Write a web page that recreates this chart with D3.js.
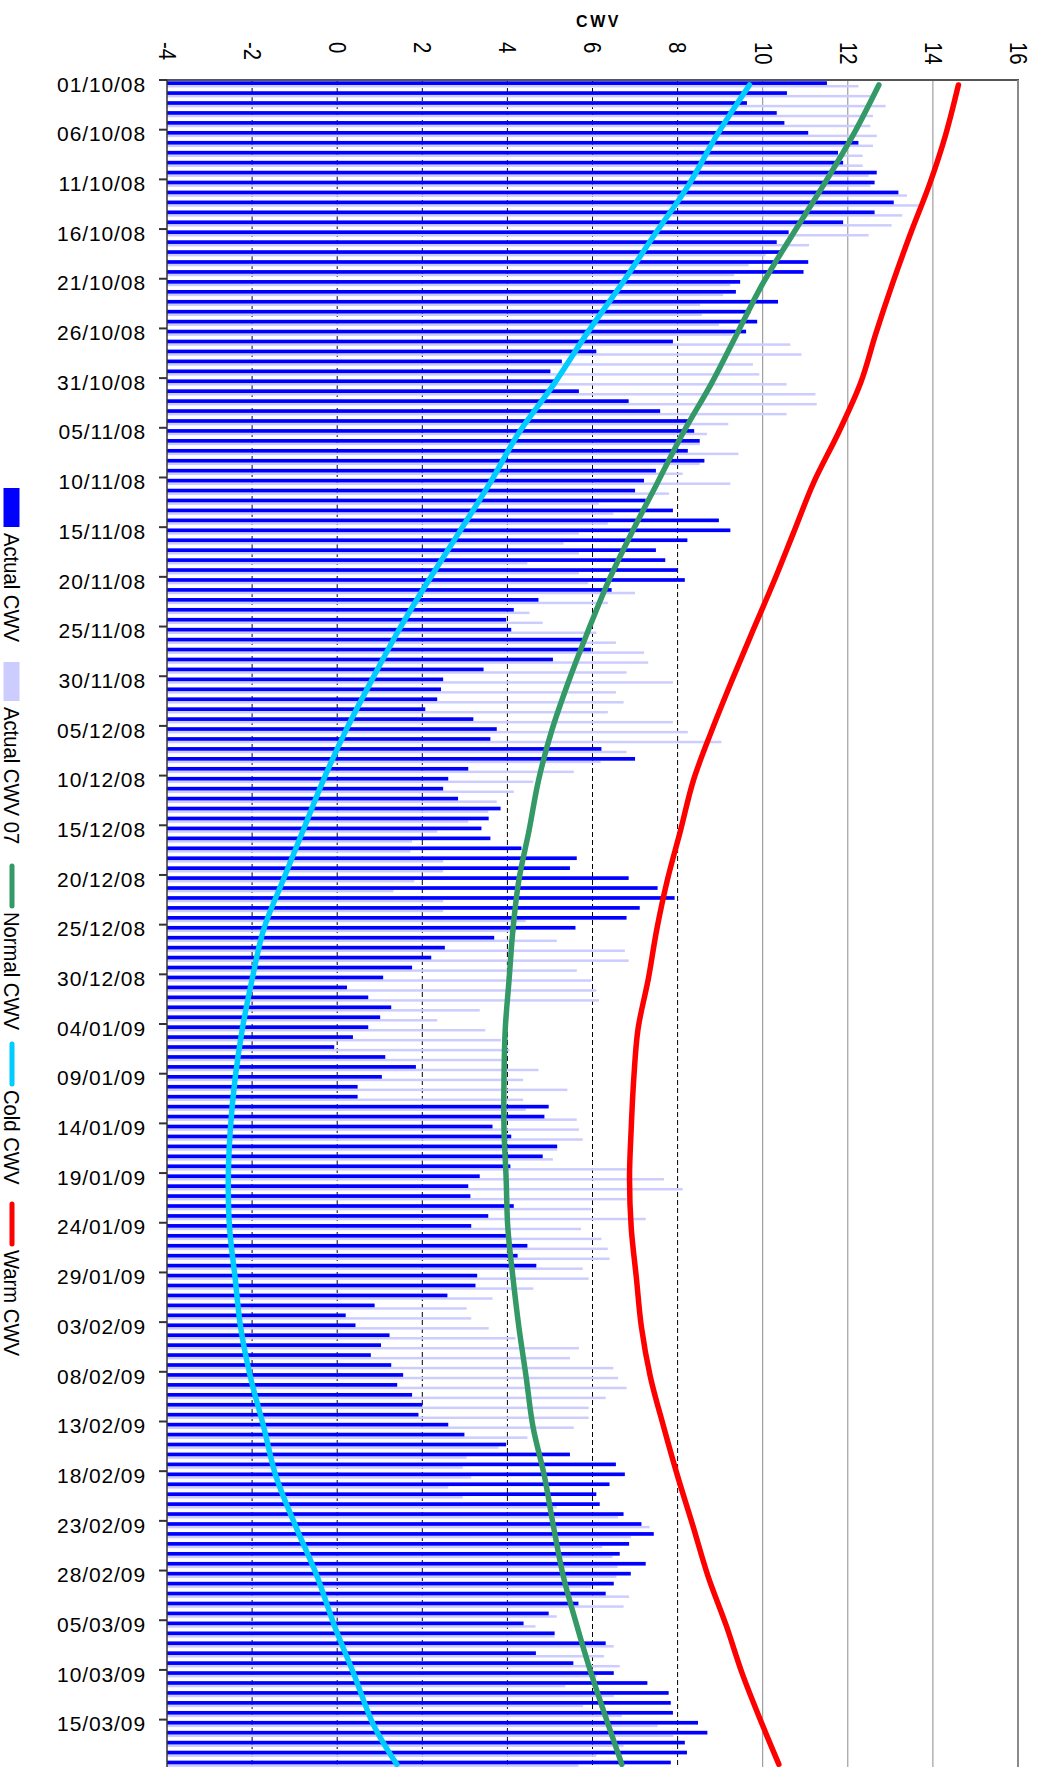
<!DOCTYPE html>
<html>
<head>
<meta charset="utf-8">
<script src="https://cdn.jsdelivr.net/npm/d3@7"></script>
<style>
    body { margin: 0; background: #fff; }
    svg text { font-family: "Liberation Sans", Arial, sans-serif; fill: #000; }
</style>
</head>
<body>
<svg id="chart"></svg>
<script>
// Date labels, one every 5 days (first day of each 5-day block)
var tickLabels = ["01/10/08", "06/10/08", "11/10/08", "16/10/08", "21/10/08", "26/10/08", "31/10/08",
    "05/11/08", "10/11/08", "15/11/08", "20/11/08", "25/11/08", "30/11/08", "05/12/08", "10/12/08",
    "15/12/08", "20/12/08", "25/12/08", "30/12/08", "04/01/09", "09/01/09", "14/01/09", "19/01/09",
    "24/01/09", "29/01/09", "03/02/09", "08/02/09", "13/02/09", "18/02/09", "23/02/09", "28/02/09",
    "05/03/09", "10/03/09", "15/03/09"];

var valueTicks = [-4, -2, 0, 2, 4, 6, 8, 10, 12, 14, 16];

// Daily values, 01/10/08 .. 19/03/09
var actualCwv = [
    11.51, 10.57, 9.63, 10.33, 10.51, 11.07, 12.25, 11.77, 11.89, 12.68,
    12.63, 13.19, 13.08, 12.63, 11.89, 10.61, 10.33, 10.47, 11.07, 10.96,
    9.47, 9.37, 10.36, 9.71, 9.87, 9.61, 7.89, 6.09, 5.28, 5.01,
    5.11, 5.68, 6.85, 7.59, 8.27, 8.39, 8.52, 8.24, 8.63, 7.49,
    7.21, 7.0, 7.25, 7.89, 8.97, 9.24, 8.23, 7.49, 7.71, 7.99,
    8.17, 6.45, 4.73, 4.15, 3.97, 4.09, 5.77, 5.97, 5.07, 3.44,
    2.49, 2.44, 2.35, 2.07, 3.2, 3.75, 3.6, 6.21, 7.0, 3.08,
    2.61, 2.49, 2.84, 3.84, 3.56, 3.39, 3.6, 4.33, 5.63, 5.47,
    6.85, 7.53, 7.93, 7.11, 6.8, 5.6, 3.69, 2.53, 2.21, 1.76,
    1.08, 0.23, 0.73, 1.27, 1.01, 0.73, 0.37, -0.07, 1.13, 1.85,
    1.05, 0.48, 0.48, 4.97, 4.87, 3.65, 4.09, 5.17, 4.83, 4.07,
    3.35, 3.08, 3.13, 4.15, 3.55, 3.15, 4.0, 4.47, 4.24, 4.68,
    3.29, 3.25, 2.59, 0.88, 0.2, 0.43, 1.23, 1.03, 0.79, 1.27,
    1.55, 1.41, 1.76, 2.0, 1.91, 2.61, 2.99, 3.97, 5.47, 6.55,
    6.76, 6.4, 6.09, 6.17, 6.73, 7.15, 7.44, 6.86, 6.64, 7.25,
    6.9, 6.5, 6.31, 5.67, 4.97, 4.38, 5.11, 6.31, 4.67, 5.55,
    6.5, 7.29, 7.79, 7.84, 7.89, 8.48, 8.7, 8.17, 8.22, 7.84
];

var actualCwv07 = [
    12.25, 12.53, 12.89, 12.59, 12.53, 12.68, 12.59, 12.35, 12.35, 12.49,
    12.53, 13.39, 13.68, 13.28, 13.03, 12.49, 11.09, 10.07, 9.67, 9.33,
    9.24, 9.07, 8.53, 8.57, 8.97, 9.29, 10.65, 10.91, 9.77, 9.92,
    10.56, 11.24, 11.27, 10.56, 9.19, 8.69, 8.52, 9.43, 8.52, 8.12,
    9.24, 7.8, 6.15, 6.49, 6.36, 5.68, 5.32, 5.68, 4.47, 5.68,
    5.9, 7.0, 6.36, 4.52, 4.83, 6.09, 6.55, 7.21, 7.31, 6.8,
    7.89, 6.55, 6.73, 6.36, 7.89, 8.24, 9.03, 6.8, 6.19, 5.56,
    4.61, 4.15, 3.75, 3.55, 3.08, 2.35, 1.76, 1.72, 2.49, 2.49,
    1.81, 1.32, 2.49, 2.49, 4.43, 4.2, 5.16, 6.76, 6.85, 5.63,
    5.97, 6.09, 6.15, 3.35, 2.35, 3.48, 3.85, 4.05, 3.87, 4.73,
    4.37, 5.41, 4.37, 4.43, 5.63, 5.68, 5.77, 5.17, 5.07, 6.8,
    7.68, 8.12, 6.8, 5.97, 7.25, 5.73, 6.21, 6.36, 6.4, 5.77,
    5.91, 4.61, 3.65, 3.04, 3.15, 3.56, 4.19, 5.68, 5.47, 6.49,
    6.6, 6.8, 6.31, 5.91, 5.91, 5.56, 4.47, 3.79, 3.04, 2.95,
    3.15, 2.61, 2.95, 5.16, 6.6, 7.34, 6.9, 6.23, 6.47, 6.59,
    6.56, 5.97, 6.86, 6.73, 5.16, 4.66, 5.11, 6.5, 6.27, 6.64,
    6.1, 5.36, 6.5, 5.78, 6.69, 7.53, 7.9, 6.73, 6.09, 5.67
];

// Reference curves, read every 5 days (day index from 01/10/08)
var curveDays = [0, 5, 10, 15, 20, 25, 30, 35, 40, 45, 50, 55, 60, 65, 70, 75, 80, 85,
    90, 95, 100, 105, 110, 115, 120, 125, 130, 135, 140, 145, 150, 155, 160, 165, 169];
var normalCwv = [12.73, 12.13, 11.44, 10.71, 10.0, 9.4, 8.8, 8.13, 7.53, 6.93, 6.37, 5.89,
    5.44, 5.04, 4.73, 4.51, 4.27, 4.13, 4.04, 3.95, 3.92, 3.92, 3.97, 4.01, 4.13, 4.27,
    4.44, 4.6, 4.87, 5.08, 5.31, 5.63, 5.98, 6.37, 6.69];
var coldCwv = [9.69, 8.93, 8.27, 7.47, 6.69, 5.87, 5.11, 4.27, 3.6, 2.87, 2.13, 1.43,
    0.8, 0.2, -0.33, -0.8, -1.27, -1.73, -2.0, -2.23, -2.4, -2.51, -2.56, -2.53, -2.4, -2.27,
    -2.04, -1.73, -1.44, -0.98, -0.48, -0.07, 0.4, 0.85, 1.4];
var warmCwv = [14.6, 14.3, 13.92, 13.47, 13.05, 12.66, 12.3, 11.78, 11.2, 10.73, 10.26, 9.76,
    9.27, 8.8, 8.37, 8.07, 7.76, 7.51, 7.31, 7.07, 6.97, 6.91, 6.87, 6.91, 7.03, 7.15,
    7.36, 7.67, 8.0, 8.36, 8.71, 9.14, 9.53, 9.99, 10.38];

var seriesNames = ["Actual CWV", "Actual CWV 07", "Normal CWV", "Cold CWV", "Warm CWV"];
var seriesColors = ["#0000ff", "#ccccff", "#339966", "#00ccff", "#ff0000"];

var chart = {
    width: 1037,
    height: 1767,
    marginLeft: 167,
    plotRight: 1018,
    marginTop: 80,
    dayHeight: 9.937
};

var svg = d3.select("#chart")
    .attr("width", chart.width)
    .attr("height", chart.height);

var xScale = d3.scaleLinear()
    .domain([valueTicks[0], valueTicks[valueTicks.length - 1]])
    .range([chart.marginLeft, chart.plotRight]);

var yScale = d3.scaleBand()
    .domain(d3.range(actualCwv.length))
    .range([chart.marginTop, chart.marginTop + chart.dayHeight * actualCwv.length])
    .paddingInner(0)
    .paddingOuter(0);

var plotBottom = yScale.range()[1];

function renderGrid() {
    var grid = svg.append("g").attr("class", "grid");
    grid.selectAll("line")
        .data(valueTicks.slice(1, -1))
        .enter().append("line")
        .attr("x1", function (d) { return xScale(d); })
        .attr("x2", function (d) { return xScale(d); })
        .attr("y1", chart.marginTop)
        .attr("y2", plotBottom)
        .attr("stroke", function (d) { return d <= 8 ? "#000" : "#8a8a8a"; })
        .attr("stroke-width", 1)
        .attr("stroke-dasharray", function (d) { return d <= 8 ? "5,3" : null; });
}

function renderBars() {
    var bw = yScale.bandwidth();
    var base = xScale.domain()[0];
    var bars = svg.append("g").attr("class", "bars");

    bars.append("g").selectAll("rect")
        .data(actualCwv07)
        .enter().append("rect")
        .attr("x", xScale(base))
        .attr("y", function (d, i) { return yScale(i) + bw * 0.5; })
        .attr("width", function (d) { return xScale(d) - xScale(base); })
        .attr("height", bw * 0.25)
        .attr("fill", seriesColors[1]);

    bars.append("g").selectAll("rect")
        .data(actualCwv)
        .enter().append("rect")
        .attr("x", xScale(base))
        .attr("y", function (d, i) { return yScale(i) + bw * 0.13; })
        .attr("width", function (d) { return xScale(d) - xScale(base); })
        .attr("height", bw * 0.37)
        .attr("fill", seriesColors[0]);
}

function renderLines() {
    var half = yScale.bandwidth() / 2;
    var line = d3.line()
        .x(function (d) { return xScale(d.v); })
        .y(function (d) { return yScale(d.day) + half; })
        .curve(d3.curveCatmullRom);

    var curves = [normalCwv, coldCwv, warmCwv];
    var lines = svg.append("g").attr("class", "lines");
    curves.forEach(function (values, k) {
        var pts = curveDays.map(function (day, j) { return {day: day, v: values[j]}; });
        lines.append("path")
            .datum(pts)
            .attr("d", line)
            .attr("fill", "none")
            .attr("stroke", seriesColors[k + 2])
            .attr("stroke-width", 5.5)
            .attr("stroke-linecap", "round")
            .attr("stroke-linejoin", "round");
    });
}

function renderAxis() {
    // value axis along the top, labels turned a quarter clockwise
    var topAxis = d3.axisTop(xScale)
        .tickValues(valueTicks)
        .tickSize(0)
        .tickFormat(function (d) { return String(d); });
    var gTop = svg.append("g")
        .attr("transform", "translate(0," + chart.marginTop + ")")
        .call(topAxis);
    gTop.select(".domain").remove();
    gTop.selectAll("text")
        .attr("x", 0).attr("y", 0).attr("dy", "0.36em")
        .attr("transform", "translate(0,-38) rotate(90) scale(0.85,1)")
        .style("text-anchor", "start")
        .style("font-size", "24px");

    svg.append("line")
        .attr("x1", chart.marginLeft - 7).attr("x2", chart.plotRight + 1)
        .attr("y1", chart.marginTop).attr("y2", chart.marginTop)
        .attr("stroke", "#555").attr("stroke-width", 2);
    svg.append("line")
        .attr("x1", chart.plotRight).attr("x2", chart.plotRight)
        .attr("y1", chart.marginTop).attr("y2", plotBottom)
        .attr("stroke", "#8a8a8a").attr("stroke-width", 2);

    // date axis on the left: ticks on day boundaries, labels on the day
    var labelDays = tickLabels.map(function (d, i) { return i * 5; });
    var leftAxis = d3.axisLeft(yScale)
        .tickValues(labelDays)
        .tickSize(0)
        .tickPadding(21)
        .tickFormat(function (d) { return tickLabels[d / 5]; });
    var gLeft = svg.append("g")
        .attr("transform", "translate(" + chart.marginLeft + ",0)")
        .call(leftAxis);
    gLeft.select(".domain").remove();
    gLeft.selectAll("text")
        .style("font-size", "21px")
        .style("letter-spacing", "0.9px");

    svg.append("g").selectAll("line")
        .data(labelDays)
        .enter().append("line")
        .attr("x1", chart.marginLeft - 8).attr("x2", chart.marginLeft)
        .attr("y1", function (d) { return yScale(d); })
        .attr("y2", function (d) { return yScale(d); })
        .attr("stroke", "#333").attr("stroke-width", 2);
    svg.append("line")
        .attr("x1", chart.marginLeft).attr("x2", chart.marginLeft)
        .attr("y1", chart.marginTop).attr("y2", plotBottom)
        .attr("stroke", "#333").attr("stroke-width", 1.5);

    svg.append("text")
        .attr("x", (chart.marginLeft + chart.plotRight) / 2 + 6)
        .attr("y", 27)
        .style("text-anchor", "middle")
        .style("font-size", "16px")
        .style("font-weight", "bold")
        .style("letter-spacing", "2.5px")
        .text("CWV");
}

function renderLegend() {
    // legend runs down the left edge, turned like the rest of the chart
    var itemTop = [488, 662, 863, 1041, 1201];
    var legend = svg.append("g").attr("class", "legend");
    seriesNames.forEach(function (name, i) {
        var y0 = itemTop[i];
        var textY;
        if (i < 2) {
            legend.append("rect")
                .attr("x", 3.5).attr("y", y0)
                .attr("width", 16).attr("height", 39)
                .attr("fill", seriesColors[i]);
            textY = y0 + 45;
        } else {
            legend.append("line")
                .attr("x1", 12).attr("x2", 12)
                .attr("y1", y0 + 3).attr("y2", y0 + 43)
                .attr("stroke", seriesColors[i])
                .attr("stroke-width", 5)
                .attr("stroke-linecap", "round");
            textY = y0 + 49;
        }
        legend.append("text")
            .attr("transform", "translate(4," + textY + ") rotate(90) scale(0.92,1)")
            .style("font-size", "22px")
            .text(name);
    });
}

svg.append("rect").attr("width", chart.width).attr("height", chart.height).attr("fill", "#fff");
renderGrid();
renderBars();
renderLines();
renderAxis();
renderLegend();
</script>
</body>
</html>
